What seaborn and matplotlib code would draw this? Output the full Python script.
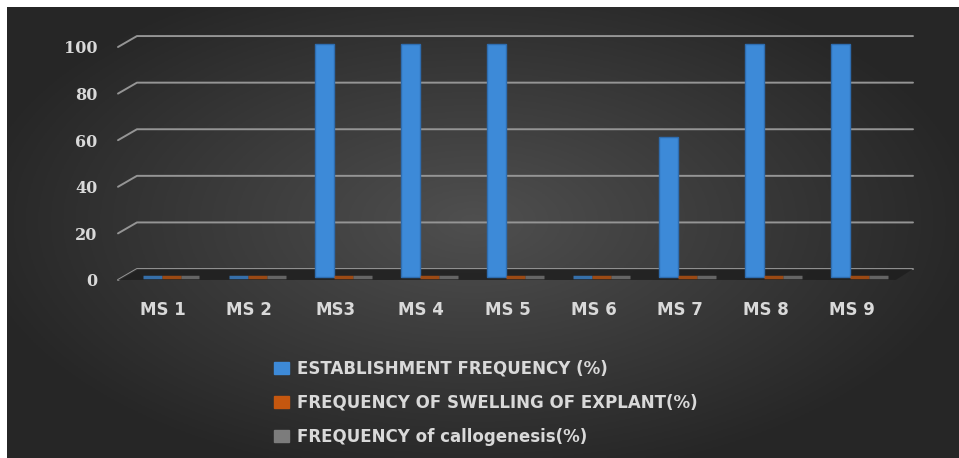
import numpy as np
import pandas as pd
import matplotlib
matplotlib.use("Agg")
import matplotlib.pyplot as plt
import matplotlib.transforms as mtransforms
from matplotlib.patches import Patch
import seaborn as sns

# ---- data ----
media = ["MS 1", "MS 2", "MS3", "MS 4", "MS 5", "MS 6", "MS 7", "MS 8", "MS 9"]
establishment = [0, 0, 100, 100, 100, 0, 60, 100, 100]
swelling = [0, 0, 0, 0, 0, 0, 0, 0, 0]
callogenesis = [0, 0, 0, 0, 0, 0, 0, 0, 0]
series_names = ["ESTABLISHMENT FREQUENCY (%)",
                "FREQUENCY OF SWELLING OF EXPLANT(%)",
                "FREQUENCY of callogenesis(%)"]
y_ticks = [0, 20, 40, 60, 80, 100]

colors = ["#3d8ad8", "#c5570f", "#7c7c7c"]
text_color = "#d9d9d9"

df = pd.DataFrame({
    "medium": media * 3,
    "series": [series_names[0]] * 9 + [series_names[1]] * 9 + [series_names[2]] * 9,
    "value": establishment + swelling + callogenesis,
})

sns.set_theme(style="white")
plt.rcParams["font.family"] = ["DejaVu Sans"]

W, H = 959, 458
fig = plt.figure(figsize=(W / 100, H / 100), dpi=100, facecolor="white")

# dark radial-gradient backdrop
bg = fig.add_axes([7 / W, 0, (W - 7) / W, (H - 7) / H])
bg.set_axis_off()
gx, gy = np.meshgrid(np.linspace(-1, 1, 400), np.linspace(-1, 1, 200))
r = np.sqrt(((gx + 0.02) / 1.0) ** 2 + ((gy + 0.05) / 1.1) ** 2)
shade = np.clip(0.31 - 0.15 * r, 0.15, 0.31)
bg.imshow(np.dstack([shade] * 3), aspect="auto", extent=[0, 1, 0, 1])

# plotting area (pixel geometry)
left_px, right_px, top_px, bot_px = 118, 913, 30, 290
ax = fig.add_axes([left_px / W, 1 - bot_px / H,
                   (right_px - left_px) / W, (bot_px - top_px) / H])
ax.set_facecolor("none")

sns.barplot(data=df, x="medium", y="value", hue="series", order=media,
            hue_order=series_names, palette=colors, width=0.66,
            saturation=1, ax=ax, legend=False, zorder=3)

# zero-height bars show as thin flat discs on the floor
for p in ax.patches:
    fc = p.get_facecolor()
    if abs(p.get_height()) < 1e-9:
        p.set_edgecolor(fc)
        p.set_linewidth(2.5)
        p.set_alpha(0.75)
    else:
        p.set_edgecolor("#2e6db0")
        p.set_linewidth(1.0)

xl, xr = -0.616, 8.618
ax.set_xlim(xl, xr)
ax.set_ylim(-5.6, 106.0)

# back-wall gridlines with perspective stubs
back_x = xl + 0.22
rise, drop = 3.4, -1.3
for v in y_ticks:
    ax.plot([xl, back_x, xr], [v + drop, v + rise, v + rise],
            color="#959595", lw=1.4, zorder=1, clip_on=False)

# floor slab
ax.fill([xl, back_x, xr, xr - 0.2], [drop, rise, rise, drop],
        color="#1f1f1f", alpha=0.85, zorder=2, lw=0)

for s in ax.spines.values():
    s.set_visible(False)
ax.set_xlabel("")
ax.set_ylabel("")
ax.set_yticks(y_ticks)
ax.set_yticklabels([str(v) for v in y_ticks], family="DejaVu Serif",
                   fontweight="bold", fontsize=11.5, color=text_color)
ax.tick_params(axis="y", length=0, pad=15)
yshift = mtransforms.ScaledTranslation(0, -3 / 100, fig.dpi_scale_trans)
for lab in ax.get_yticklabels():
    lab.set_transform(lab.get_transform() + yshift)
ax.set_xticks(range(len(media)))
ax.set_xticklabels(media, fontweight="bold", fontsize=12, color=text_color)
ax.tick_params(axis="x", length=0, pad=8)
xshift = mtransforms.ScaledTranslation(-8 / 100, 0, fig.dpi_scale_trans)
for lab in ax.get_xticklabels():
    lab.set_transform(lab.get_transform() + xshift)

handles = [Patch(facecolor=c, edgecolor=c) for c in colors]
leg = fig.legend(handles, series_names, loc="upper left",
                 bbox_to_anchor=(259 / W, 1 - 345 / H), frameon=False,
                 fontsize=12, labelcolor=text_color, handlelength=0.9,
                 handleheight=0.7, handletextpad=0.5, labelspacing=0.95)
for t in leg.get_texts():
    t.set_fontweight("semibold")

fig.savefig("out.png", dpi=100, facecolor="white")
